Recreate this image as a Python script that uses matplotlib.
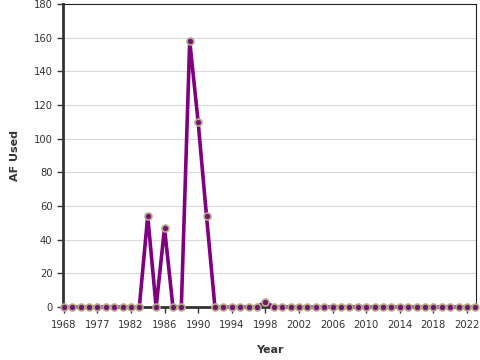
import matplotlib
matplotlib.use("Agg")
import matplotlib.pyplot as plt

# years (categorical, gaps before 1982)
years = [1968, 1970, 1972, 1975, 1977, 1978, 1979, 1981] + list(range(1982, 2024))
af_used = [0, 0, 0, 0, 0, 0, 0, 0,
           0, 0, 54, 0, 47, 0, 0, 158, 110, 54, 0, 0,
           0, 0, 0, 0, 3, 0, 0, 0, 0, 0, 0, 0,
           0, 0, 0, 0, 0, 0, 0, 0, 0, 0, 0, 0,
           0, 0, 0, 0, 0, 0]
y_ticks = [0, 20, 40, 60, 80, 100, 120, 140, 160, 180]

fig = plt.figure(figsize=(4.8, 3.6), dpi=100)
ax = fig.add_axes([0.131, 0.147, 0.861, 0.842])

x = list(range(len(years)))
ax.plot(x, af_used, color="#800080", linewidth=2.6, zorder=3, clip_on=False)
ax.plot(x, af_used, linestyle="none", marker="o", markersize=5,
        markerfacecolor="#6e1670", markeredgecolor="#b8ad8a",
        markeredgewidth=1.2, zorder=4, clip_on=False)

ax.set_xlim(-0.1, len(years) - 0.9)
ax.set_ylim(0, 180)
ax.set_yticks(y_ticks)
tick_idx = list(range(0, len(years), 4))
ax.set_xticks(tick_idx)
ax.set_xticklabels([str(years[i]) for i in tick_idx])

ax.yaxis.grid(True, color="#d9d9d9", linewidth=0.8)
ax.set_axisbelow(True)

for side in ["left", "bottom"]:
    ax.spines[side].set_linewidth(2)
    ax.spines[side].set_color("#333333")
for side in ["top", "right"]:
    ax.spines[side].set_linewidth(0.8)
    ax.spines[side].set_color("#222222")

ax.tick_params(axis="both", labelsize=7.2, colors="#333333", length=4, width=1)
ax.tick_params(axis="x", pad=5)
ax.set_xlabel("Year", fontsize=8, fontweight="bold", color="#333333", labelpad=11)
ax.set_ylabel("AF Used", fontsize=8, fontweight="bold", color="#333333", labelpad=10)

fig.savefig("out.png", dpi=100)
